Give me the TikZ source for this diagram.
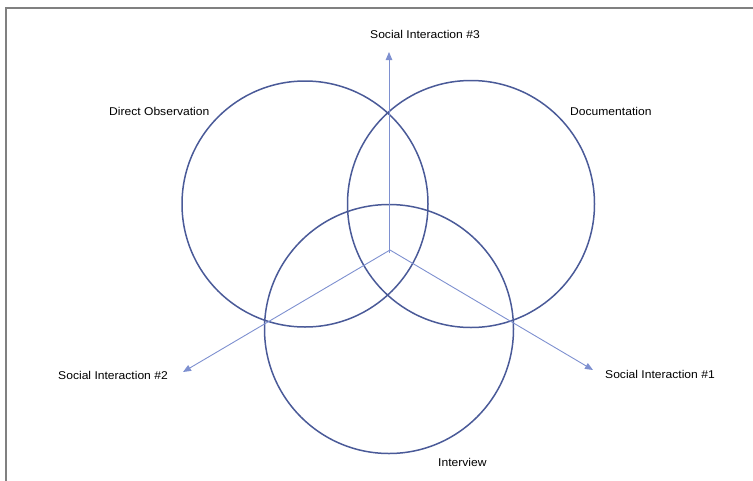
\documentclass[tikz,border=0pt]{standalone}
\usepackage{fontspec}
\setmainfont{Liberation Sans}[FakeStretch=1.07]
\usetikzlibrary{arrows.meta}
\definecolor{ringblue}{HTML}{4A5A98}
\definecolor{axisblue}{HTML}{7E90D0}
\definecolor{framegray}{HTML}{808080}
\tikzset{
  ring/.style={draw=ringblue, line width=1.5pt, circle, inner sep=0pt, minimum size=#1},
  axis/.style={draw=axisblue, line width=0.9pt, -{Triangle[length=8pt,width=6.5pt]}},
  lbl/.style={font=\fontsize{11.3}{13}\selectfont, inner sep=0pt, text=black}
}
\begin{document}
\begin{tikzpicture}[x=1pt,y=-1pt]
\useasboundingbox (0,0) rectangle (753,480);
\begin{scope}
\clip (0,0) rectangle (753,480);
\draw[framegray, line width=1.2pt] (6,8) rectangle (770,500);
\end{scope}
% circles
\node[ring=246pt] (obs) at (305,204) {};
\node[ring=247pt] (doc) at (471,204) {};
\node[ring=249pt] (int) at (389,329) {};
% axes
\coordinate (c) at (390,250);
\coordinate (c3) at (389,253);
\coordinate (t3) at (389,52);
\coordinate (t2) at (183,372);
\coordinate (t1) at (593,370);
\draw[axis] (c3) -- (t3);
\draw[axis] (c) -- (t2);
\draw[axis] (c) -- (t1);
% labels
\node[lbl, anchor=west] (l3) at (370,34) {Social Interaction \#3};
\node[lbl, anchor=west] (lobs) at (109,111) {Direct Observation};
\node[lbl, anchor=west] (ldoc) at (570,111) {Documentation};
\node[lbl, anchor=east] (l2) at (168,375) {Social Interaction \#2};
\node[lbl, anchor=west] (l1) at (605,374) {Social Interaction \#1};
\node[lbl, anchor=west] (lint) at (438,462) {Interview};
\end{tikzpicture}
\end{document}
